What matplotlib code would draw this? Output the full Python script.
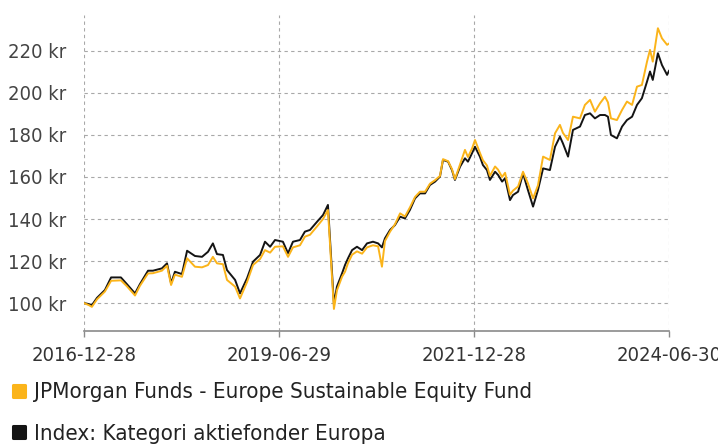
import numpy as np
import pandas as pd
import matplotlib
matplotlib.use("Agg")
import matplotlib.pyplot as plt
import matplotlib.dates as mdates
from matplotlib.lines import Line2D
from matplotlib.markers import MarkerStyle

# values
dates = [
    "2016-12-28", "2017-01-20", "2017-02-03", "2017-02-27", "2017-04-05", "2017-05-04",
    "2017-06-19", "2017-07-17", "2017-08-24", "2017-09-16", "2017-10-24", "2017-11-16",
    "2017-12-28", "2018-01-21", "2018-02-09", "2018-02-27", "2018-04-01", "2018-04-25",
    "2018-06-01", "2018-07-04", "2018-08-01", "2018-08-24", "2018-09-12", "2018-10-10",
    "2018-10-29", "2018-12-06", "2018-12-29", "2019-01-31", "2019-02-28", "2019-04-02",
    "2019-04-25", "2019-05-19", "2019-06-11", "2019-07-18", "2019-08-11", "2019-09-03",
    "2019-10-06", "2019-10-29", "2019-11-22", "2019-12-25", "2020-01-22", "2020-02-14",
    "2020-03-13", "2020-03-27", "2020-04-20", "2020-05-04", "2020-05-18", "2020-06-06",
    "2020-06-29", "2020-07-23", "2020-08-15", "2020-09-12", "2020-10-06", "2020-10-24",
    "2020-11-07", "2020-12-01", "2020-12-24", "2021-01-17", "2021-02-09", "2021-03-04",
    "2021-03-28", "2021-04-20", "2021-05-14", "2021-06-06", "2021-06-30", "2021-07-23",
    "2021-08-06", "2021-08-30", "2021-09-17", "2021-10-01", "2021-10-25", "2021-11-17",
    "2021-12-01", "2021-12-20", "2022-01-03", "2022-01-26", "2022-02-09", "2022-02-28",
    "2022-03-14", "2022-04-07", "2022-04-21", "2022-05-10", "2022-05-24", "2022-06-16",
    "2022-06-30", "2022-07-24", "2022-08-16", "2022-09-08", "2022-10-02", "2022-10-25",
    "2022-11-18", "2022-12-20", "2023-01-13", "2023-02-05", "2023-02-19", "2023-03-15",
    "2023-04-07", "2023-05-10", "2023-06-02", "2023-06-26", "2023-07-19", "2023-08-12",
    "2023-09-04", "2023-09-18", "2023-10-02", "2023-10-30", "2023-11-23", "2023-12-16",
    "2024-01-09", "2024-02-01", "2024-02-24", "2024-03-19", "2024-04-02", "2024-04-15",
    "2024-05-09", "2024-05-28", "2024-06-21", "2024-06-30",
]

fund = [
    100.0, 99.0, 98.2, 101.8, 105.5, 110.6,
    110.8, 108.0, 103.6, 108.2, 114.1, 114.2,
    115.4, 117.8, 108.6, 113.5, 112.5, 121.3,
    117.3, 117.0, 118.1, 122.0, 118.9, 118.5,
    111.0, 107.8, 102.2, 110.0, 118.1, 121.0,
    125.2, 124.0, 126.8, 127.0, 122.0, 126.5,
    127.5, 131.6, 132.5, 136.5, 140.0, 144.3,
    97.2, 106.0, 112.5, 114.9, 119.0, 123.0,
    124.6, 123.5, 126.5, 127.5, 127.0, 117.3,
    129.5, 134.0, 137.5, 142.7, 141.2, 145.5,
    150.5, 153.0, 153.0, 156.8, 158.5, 160.5,
    168.5, 167.5, 163.8, 159.0, 166.0, 172.9,
    169.5, 173.5, 177.6, 171.5, 168.0, 165.5,
    160.5, 165.0, 163.5, 160.0, 162.0, 151.5,
    153.5, 155.5, 162.5, 157.0, 149.8, 156.0,
    169.7, 168.1, 180.8, 184.8, 181.0, 177.6,
    188.7, 187.9, 194.3, 196.7, 191.1, 195.1,
    198.2, 195.5, 187.9, 187.1, 191.9, 195.9,
    194.3, 203.0, 203.8, 214.9, 220.5, 214.9,
    230.8, 226.0, 222.9, 223.5,
]

index = [
    100.0, 99.5, 99.0, 102.5, 106.2, 112.2,
    112.2, 109.0, 104.6, 109.0, 115.4, 115.4,
    116.5, 118.9, 109.4, 114.9, 113.8, 124.9,
    122.4, 122.0, 124.4, 128.4, 123.3, 122.9,
    115.7, 111.0, 104.6, 111.8, 119.7, 122.9,
    129.2, 126.8, 130.0, 129.2, 123.7, 129.2,
    130.0, 134.0, 134.8, 138.7, 141.9, 146.7,
    99.5, 107.8, 114.1, 118.1, 121.3, 125.2,
    126.8, 125.2, 128.4, 129.2, 128.4, 126.5,
    130.8, 134.8, 137.1, 141.1, 140.3, 144.3,
    149.8, 152.2, 152.2, 156.2, 157.8, 160.2,
    168.1, 167.3, 163.3, 158.6, 164.9, 168.9,
    167.3, 171.3, 174.4, 169.7, 165.7, 163.3,
    158.6, 162.5, 161.0, 157.8, 159.4, 149.0,
    151.4, 153.0, 161.7, 153.8, 145.9, 153.8,
    164.1, 163.3, 174.4, 179.2, 176.0, 169.7,
    182.4, 184.0, 189.5, 190.3, 187.9, 189.5,
    189.5, 188.7, 180.0, 178.4, 184.0, 187.1,
    188.7, 194.3, 197.5, 205.4, 210.2, 206.2,
    218.9, 213.3, 208.6, 210.5,
]

tick_dates = ["2016-12-28", "2019-06-29", "2021-12-28", "2024-06-30"]
y_ticks = [100, 120, 140, 160, 180, 200, 220]

labels = ["JPMorgan Funds - Europe Sustainable Equity Fund",
          "Index: Kategori aktiefonder Europa"]
colors = ["#FBB41A", "#141414"]

plt.rcParams["font.family"] = ["DejaVu Sans Condensed", "DejaVu Sans"]
plt.rcParams["font.stretch"] = "condensed"

x = pd.to_datetime(dates)
fig = plt.figure(figsize=(7.18, 4.46), dpi=100)
ax = fig.add_axes([84 / 718, 1 - 331 / 446, 585 / 718, 316 / 446])

ax.plot(x, index, color=colors[1], lw=1.4, zorder=3)
ax.plot(x, fund, color=colors[0], lw=1.4, zorder=4)

ax.set_xlim(pd.Timestamp(tick_dates[0]), pd.Timestamp(tick_dates[-1]))
ax.set_ylim(86.7, 237.1)
ax.set_xticks(pd.to_datetime(tick_dates))
ax.xaxis.set_major_formatter(mdates.DateFormatter("%Y-%m-%d"))
ax.set_yticks(y_ticks)
ax.set_yticklabels([f"{v} kr" for v in y_ticks])

ax.grid(True, color="#a8a8a8", lw=0.8, linestyle=(0, (3, 3)))
ax.set_axisbelow(True)
for side in ["top", "right", "left"]:
    ax.spines[side].set_visible(False)
ax.spines["bottom"].set_color("#8a8a8a")
ax.spines["bottom"].set_linewidth(1.2)
ax.tick_params(axis="x", length=4, width=1, color="#8a8a8a", pad=7,
               labelsize=14.5, labelcolor="#333333")
ax.tick_params(axis="y", length=0, pad=13, labelsize=14.5, labelcolor="#444444")

# legend below the plot, rounded square swatches
handles = [Line2D([], [], ls="none",
                  marker=MarkerStyle("s", joinstyle="round"),
                  markersize=8.5, markeredgewidth=2.2,
                  color=c, markerfacecolor=c, markeredgecolor=c) for c in colors]
fig.legend(handles, labels, loc="upper left", bbox_to_anchor=(0.003, 1 - 378 / 446),
           frameon=False, fontsize=16, handlelength=1.15, handletextpad=0.1,
           labelspacing=0.95, borderaxespad=0, borderpad=0.2,
           labelcolor="#222222")

fig.savefig("out.png", dpi=100)
